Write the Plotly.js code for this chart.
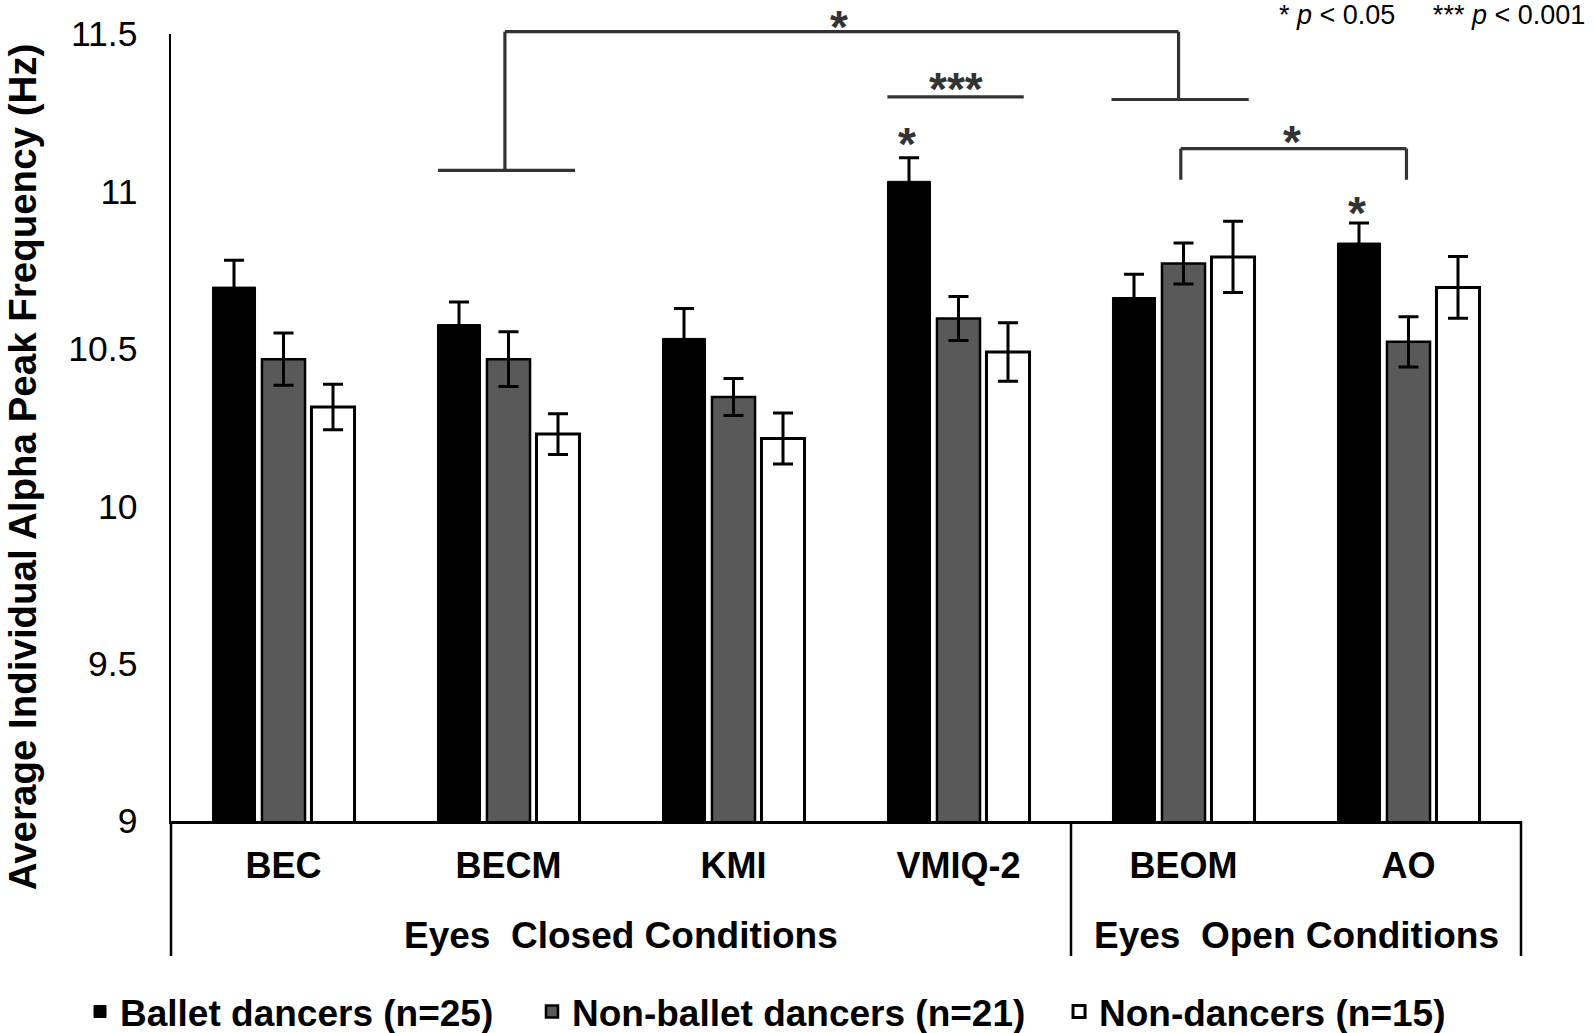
<!DOCTYPE html>
<html>
<head>
<meta charset="utf-8">
<script src="https://cdn.plot.ly/plotly-3.0.1.min.js"></script>
<style>
  html, body { margin: 0; padding: 0; background: #fff; }
  #chart { width: 1595px; height: 1033px; }
</style>
</head>
<body>
<div id="chart"></div>
<script>
// ---- Data ----
const categories = ['BEC', 'BECM', 'KMI', 'VMIQ-2', 'BEOM', 'AO'];
const seriesNames = ['Ballet dancers (n=25)', 'Non-ballet dancers (n=21)', 'Non-dancers (n=15)'];
const balletMean     = [10.696, 10.577, 10.533, 11.032, 10.663, 10.836];
const balletSE       = [0.085, 0.072, 0.095, 0.075, 0.074, 0.064];
const nonBalletMean  = [10.467, 10.467, 10.347, 10.596, 10.771, 10.522];
const nonBalletSE    = [0.083, 0.087, 0.059, 0.070, 0.065, 0.080];
const nonDancerMean  = [10.315, 10.229, 10.215, 10.490, 10.792, 10.695];
const nonDancerSE    = [0.072, 0.065, 0.081, 0.093, 0.113, 0.098];
const yTicks = [9, 9.5, 10, 10.5, 11, 11.5];
const groupLabels = ['Eyes\u00a0 Closed Conditions', 'Eyes\u00a0 Open Conditions'];

// ---- Styling ----
const FONT = 'Liberation Sans, Arial, Helvetica, sans-serif';
const yMin = 9, yMax = 11.5;
const P = v => (v - yMin) / (yMax - yMin);   // value -> paper fraction
const LINE = '#333333';

function barTrace(name, y, se, fill, lineW, legendId) {
  return {
    type: 'bar', name: name, x: categories, y: y,
    marker: { color: fill, line: { color: '#000', width: lineW } },
    error_y: { type: 'data', array: se, visible: true, color: '#000', thickness: 3, width: 10 },
    legend: legendId,
    hoverinfo: 'x+y+name'
  };
}

const data = [
  barTrace(seriesNames[0], balletMean, balletSE, '#000000', 1, 'legend'),
  barTrace(seriesNames[1], nonBalletMean, nonBalletSE, '#595959', 2.5, 'legend2'),
  barTrace(seriesNames[2], nonDancerMean, nonDancerSE, '#ffffff', 3, 'legend3')
];

function seg(x0, y0, x1, y1, yref) {
  return { type: 'line', xref: 'x', yref: yref, x0: x0, y0: y0, x1: x1, y1: y1,
           line: { color: LINE, width: 3.2 }, layer: 'above' };
}
const topY = 1.0029;
const shapes = [
  // big bracket (eyes closed vs eyes open)
  seg(0.984, topY, 3.978, topY, 'paper'),
  seg(0.984, topY, 0.984, P(11.067), 'paper'),
  seg(0.687, P(11.067), 1.296, P(11.067), 'paper'),
  seg(3.978, topY, 3.978, P(11.292), 'paper'),
  seg(3.68, P(11.292), 4.29, P(11.292), 'paper'),
  // *** line over VMIQ-2
  seg(2.684, 11.30, 3.29, 11.30, 'y'),
  // bracket BEOM - AO
  seg(3.988, 11.136, 4.991, 11.136, 'y'),
  seg(3.988, 11.136, 3.988, 11.037, 'y'),
  seg(4.991, 11.136, 4.991, 11.037, 'y'),
  // group separators below the x axis
  { type: 'line', xref: 'paper', yref: 'paper', x0: 0, x1: 0, y0: 0, y1: -0.1715, line: { color: '#000', width: 2.5 } },
  { type: 'line', xref: 'x', yref: 'paper', x0: 3.5, x1: 3.5, y0: 0, y1: -0.1715, line: { color: '#000', width: 2.5 } },
  { type: 'line', xref: 'paper', yref: 'paper', x0: 1, x1: 1, y0: 0, y1: -0.1715, line: { color: '#000', width: 2.5 } }
];

const STAR = 46;
function star(text, x, y, yref) {
  return { text: text, x: x, y: y, xref: 'x', yref: yref, showarrow: false,
           xanchor: 'center', yanchor: 'middle', yshift: -0.21 * STAR,
           font: { family: FONT, size: STAR, color: LINE, weight: 'bold' } };
}
const annotations = [
  star('*', 2.47, 1 + (34 - 17.5) / 787, 'paper'),
  star('***', 2.99, 11.356, 'y'),
  star('*', 2.77, 11.18, 'y'),
  star('*', 4.48, 11.189, 'y'),
  star('*', 4.77, 10.961, 'y'),
  { text: groupLabels[0], x: 1.5, xref: 'x', y: -0.1449, yref: 'paper', showarrow: false,
    xanchor: 'center', yanchor: 'middle', font: { family: FONT, size: 37, color: '#000', weight: 'bold' } },
  { text: groupLabels[1], x: 4.5, xref: 'x', y: -0.1449, yref: 'paper', showarrow: false,
    xanchor: 'center', yanchor: 'middle', font: { family: FONT, size: 37, color: '#000', weight: 'bold' } },
  { text: 'Average Individual Alpha Peak Frequency (Hz)', textangle: -90,
    x: (22 - 171) / 1350, xref: 'paper', y: 0.4496, yref: 'paper', showarrow: false,
    xanchor: 'center', yanchor: 'middle', font: { family: FONT, size: 38.5, color: '#000', weight: 'bold' } },
  { text: '* <i>p</i> < 0.05\u00a0\u00a0\u00a0\u00a0 *** <i>p</i> < 0.001', x: (1277 - 171) / 1350, xref: 'paper',
    y: 1.024, yref: 'paper', showarrow: false, xanchor: 'left', yanchor: 'middle',
    font: { family: FONT, size: 27, color: '#000' } }
];

const legendBase = { orientation: 'h', y: -0.2426, yanchor: 'middle', xanchor: 'left',
  bgcolor: 'rgba(0,0,0,0)', itemwidth: 30,
  font: { family: FONT, size: 37, color: '#000', weight: 'bold' } };

const layout = {
  width: 1595, height: 1033,
  margin: { l: 171, r: 74, t: 34, b: 212, pad: 0, autoexpand: false },
  paper_bgcolor: '#ffffff', plot_bgcolor: '#ffffff',
  barmode: 'group', bargap: 0.34, bargroupgap: 0.13,
  font: { family: FONT, color: '#000' },
  showlegend: true,
  legend: Object.assign({}, legendBase, { x: -0.0674 }),
  legend2: Object.assign({}, legendBase, { x: 0.2674 }),
  legend3: Object.assign({}, legendBase, { x: 0.6578 }),
  xaxis: {
    type: 'category', showline: true, linecolor: '#000', linewidth: 2.5,
    ticks: '', showgrid: false, zeroline: false, ticklabelstandoff: 11,
    tickfont: { family: FONT, size: 36, color: '#000', weight: 'bold' },
    range: [-0.5, 5.5]
  },
  yaxis: {
    range: [yMin, yMax], tickvals: yTicks, showline: true, linecolor: '#000', linewidth: 2.5,
    ticks: '', showgrid: false, zeroline: false, ticklabelstandoff: 24,
    tickfont: { family: FONT, size: 35.5, color: '#000' }
  },
  shapes: shapes,
  annotations: annotations
};

Plotly.newPlot('chart', data, layout, { displayModeBar: false, staticPlot: true });
</script>
</body>
</html>
